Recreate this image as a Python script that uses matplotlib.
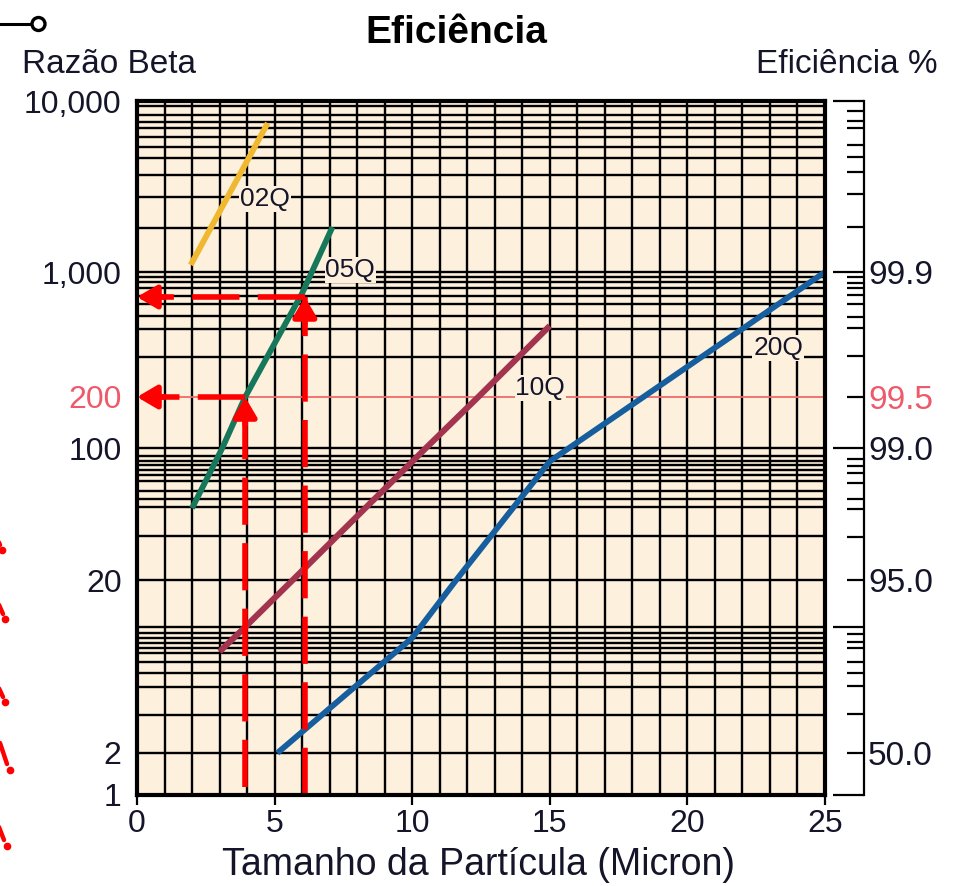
import numpy as np
import matplotlib
matplotlib.use("Agg")
import matplotlib.pyplot as plt
from matplotlib.lines import Line2D
from matplotlib.patches import Circle

plt.rcParams['font.family'] = ['Liberation Sans', 'DejaVu Sans']

# ---------------- data ----------------
q02_x = [1.95, 4.75]
q02_y = [1100, 7430]

q05_x = [2.0, 3.1, 3.93, 6.0, 7.1]
q05_y = [48, 100, 200, 760, 1830]

q10_x = [3.0, 3.93, 5.66, 10.5, 12.4, 15.0]
q10_y = [7.3, 10, 20, 100, 200, 500]

q20_x = [5.1, 10.0, 10.3, 11.6, 15.0, 15.7, 18.4, 25.0]
q20_y = [2, 8.7, 10, 20, 85, 100, 200, 1000]

series_names = ['02Q', '05Q', '10Q', '20Q']
label_x = [4.65, 7.75, 14.65, 23.3]
label_y = [2670, 1030, 225, 376]

x_ticks = [0, 5, 10, 15, 20, 25]
left_tick_vals = [1, 2, 20, 100, 200, 1000, 10000]
left_tick_labels = ['1', '2', '20', '100', '200', '1,000', '10,000']

right_major_vals = [1, 10, 100, 1000, 10000]
right_major_labels = ['', '', '99.0', '99.9', '']
right_minor_vals = [8750, 7640, 6950, 5530, 4710, 3850, 2860, 1830,
                    938, 869, 815, 745, 662, 561, 487, 340, 200,
                    87.5, 80.3, 73.8, 65.3, 53.7, 47.5, 33.8, 20,
                    9.15, 8.26, 7.64, 6.39, 5.55, 4.70, 3.29, 2]
right_minor_labeled = {200: '99.5', 20: '95.0', 2: '50.0'}

grid_x = list(range(1, 25))
grid_y = [9350, 8280, 7540, 6950, 6160, 5380, 4640, 3690, 2750, 1810, 1000,
          938, 879, 815, 735, 662, 568, 481, 335, 100,
          90.6, 85.1, 81.1, 76.2, 71.6, 66.5, 59.5, 53.8, 48.7, 34.0, 20, 10,
          9.26, 8.69, 8.15, 7.64, 7.17, 6.40, 5.55, 4.64, 3.24, 2]

marker_a = (6.1, 725)    # upper red arrow corner
marker_b = (3.93, 200)   # lower red arrow corner
ref_line_val = 200

# ---------------- custom (hand-drawn) log-like scale ----------------
_anchor_log = np.log10([1, 2, 10, 20, 100, 200, 1000, 10000])
_anchor_t = np.array([0, 42, 168, 215, 347, 398, 523, 694], float)
_LX = np.concatenate([[-6], _anchor_log, [10]])
_LT = np.concatenate([[_anchor_t[0] - 6 * 143], _anchor_t, [_anchor_t[-1] + 6 * 171]])


def fwd(v):
    v = np.asarray(v, float)
    lv = np.log10(np.clip(v, 1e-6, None))
    return np.interp(lv, _LX, _LT)


def inv(t):
    t = np.asarray(t, float)
    return 10 ** np.interp(t, _LT, _LX)


# ---------------- figure ----------------
W, H = 960, 886
fig = plt.figure(figsize=(W / 100, H / 100), dpi=100)
BG = '#FDF0DC'
TXT = '#15152a'
PINK = '#EE5a6a'

L, R, T, B = 137, 825, 101, 795
ax = fig.add_axes([L / W, 1 - B / H, (R - L) / W, (B - T) / H])
ax.set_yscale('function', functions=(fwd, inv))
ax.set_xlim(0, 25)
ax.set_ylim(1, 10000)
ax.set_facecolor(BG)

# grid
ax.vlines(grid_x, 1, 10000, color='black', lw=1.7, zorder=2)
ax.hlines(grid_y, 0, 25, color='black', lw=1.7, zorder=2)
ax.axhline(ref_line_val, color='#F06a6a', lw=1.3, zorder=2.5)

# curves
ax.plot(q02_x, q02_y, color='#F0B830', lw=4.2, zorder=5, solid_capstyle='butt')
ax.plot(q05_x, q05_y, color='#16775A', lw=4.2, zorder=5, solid_capstyle='butt')
ax.plot(q10_x, q10_y, color='#A3344F', lw=4.4, zorder=5, solid_capstyle='butt')
ax.plot(q20_x, q20_y, color='#175E9E', lw=4.2, zorder=5, solid_capstyle='butt')

for name, lx, ly in zip(series_names, label_x, label_y):
    ax.text(lx, ly, name, fontsize=19, color=TXT, ha='center', va='center', zorder=4,
            bbox=dict(facecolor=BG, edgecolor='none', pad=0.6))

# red dashed arrows
RED = '#FF0000'
dash = (8.5, 3.3)
for (cx, cy), ybot in ((marker_a, 1.0), (marker_b, 1.14)):
    ax.plot([cx, 0.35], [cy, cy], color=RED, lw=4, dashes=dash, zorder=6,
            dash_capstyle='butt')
    ax.plot([cx, cx], [ybot, cy], color=RED, lw=4, dashes=dash, zorder=6,
            dash_capstyle='butt')
    ax.annotate('', xy=(0.0, cy), xytext=(20, 0), textcoords='offset points',
                arrowprops=dict(arrowstyle='-|>,head_length=0.85,head_width=0.5',
                                color=RED, lw=4, mutation_scale=14,
                                shrinkA=0, shrinkB=0), zorder=7)
    ax.annotate('', xy=(cx, cy), xytext=(0, -20), textcoords='offset points',
                arrowprops=dict(arrowstyle='-|>,head_length=0.85,head_width=0.5',
                                color=RED, lw=4, mutation_scale=14,
                                shrinkA=0, shrinkB=0), zorder=7)

# spines / ticks
for s in ax.spines.values():
    s.set_linewidth(3)
    s.set_color('black')
    s.set_zorder(8)
ax.set_xticks(x_ticks)
ax.set_xticklabels([str(v) for v in x_ticks])
ax.tick_params(axis='x', direction='out', length=7, width=1.6, pad=3,
               labelsize=23, labelcolor=TXT)
ax.set_yticks(left_tick_vals)
ax.set_yticklabels(left_tick_labels)
ax.yaxis.set_minor_locator(matplotlib.ticker.NullLocator())
ax.tick_params(axis='y', length=0, pad=11, labelsize=23, labelcolor=TXT)
for lab, v in zip(ax.get_yticklabels(), left_tick_vals):
    if v == ref_line_val:
        lab.set_color(PINK)

# right efficiency axis
ax2 = fig.add_axes([833 / W, 1 - B / H, (864 - 833) / W, (B - T) / H])
ax2.set_yscale('function', functions=(fwd, inv))
ax2.set_ylim(1, 10000)
ax2.set_xlim(0, 1)
ax2.patch.set_visible(False)
ax2.xaxis.set_visible(False)
for k in ('left', 'top', 'bottom'):
    ax2.spines[k].set_visible(False)
ax2.spines['right'].set_linewidth(1.6)
ax2.yaxis.tick_right()
ax2.set_yticks(right_major_vals)
ax2.set_yticklabels(right_major_labels)
ax2.set_yticks(right_minor_vals, minor=True)
ax2.set_yticklabels([right_minor_labeled.get(v, '') for v in right_minor_vals], minor=True)
ax2.tick_params(axis='y', which='major', direction='in', length=22, width=1.6,
                pad=3, labelsize=24, labelcolor=TXT)
ax2.tick_params(axis='y', which='minor', direction='in', length=12, width=1.6,
                pad=3, labelsize=24, labelcolor=TXT)
for lab, v in zip(ax2.get_yticklabels(minor=True), right_minor_vals):
    if v == ref_line_val:
        lab.set_color(PINK)

# titles / texts
fig.text(456 / W, 1 - 43 / H, 'Eficiência', fontsize=28, fontweight='bold',
         ha='center', va='baseline', color='black')
fig.text(22 / W, 1 - 73 / H, 'Razão Beta', fontsize=24, ha='left', va='baseline', color=TXT)
fig.text(938 / W, 1 - 73 / H, 'Eficiência %', fontsize=24, ha='right', va='baseline', color=TXT)
fig.text(478 / W, 1 - 875 / H, 'Tamanho da Partícula (Micron)', fontsize=27,
         ha='center', va='baseline', color=TXT)

# top-left connector symbol
fig.add_artist(Line2D([0, 31 / W], [1 - 24 / H, 1 - 24 / H], transform=fig.transFigure,
                      color='black', lw=2.2))
fig.add_artist(Circle((38.5 / 100, (H - 24) / 100), 0.065, transform=fig.dpi_scale_trans,
                      facecolor='white', edgecolor='black', lw=2.4))

# clipped red fragments at the left edge (decorative strokes + dots, in pixels)
frag_lines = [((-6, 530), (0, 545)), ((-4, 598), (3, 614)), ((-4, 682), (3, 697)),
              ((0, 743), (7, 764)), ((-3, 822), (4, 840))]
frag_dots = [(2, 550), (5, 619), (5, 702), (10, 770), (7, 846)]
for (p0, p1), d in zip(frag_lines, frag_dots):
    fig.add_artist(Line2D([p0[0] / 100, p1[0] / 100], [(H - p0[1]) / 100, (H - p1[1]) / 100],
                          transform=fig.dpi_scale_trans, color='red', lw=3.2,
                          solid_capstyle='round'))
    fig.add_artist(Line2D([d[0] / 100], [(H - d[1]) / 100], transform=fig.dpi_scale_trans,
                          marker='o', markersize=4.5, color='red', linestyle='none'))

fig.savefig('out.png', dpi=100)
